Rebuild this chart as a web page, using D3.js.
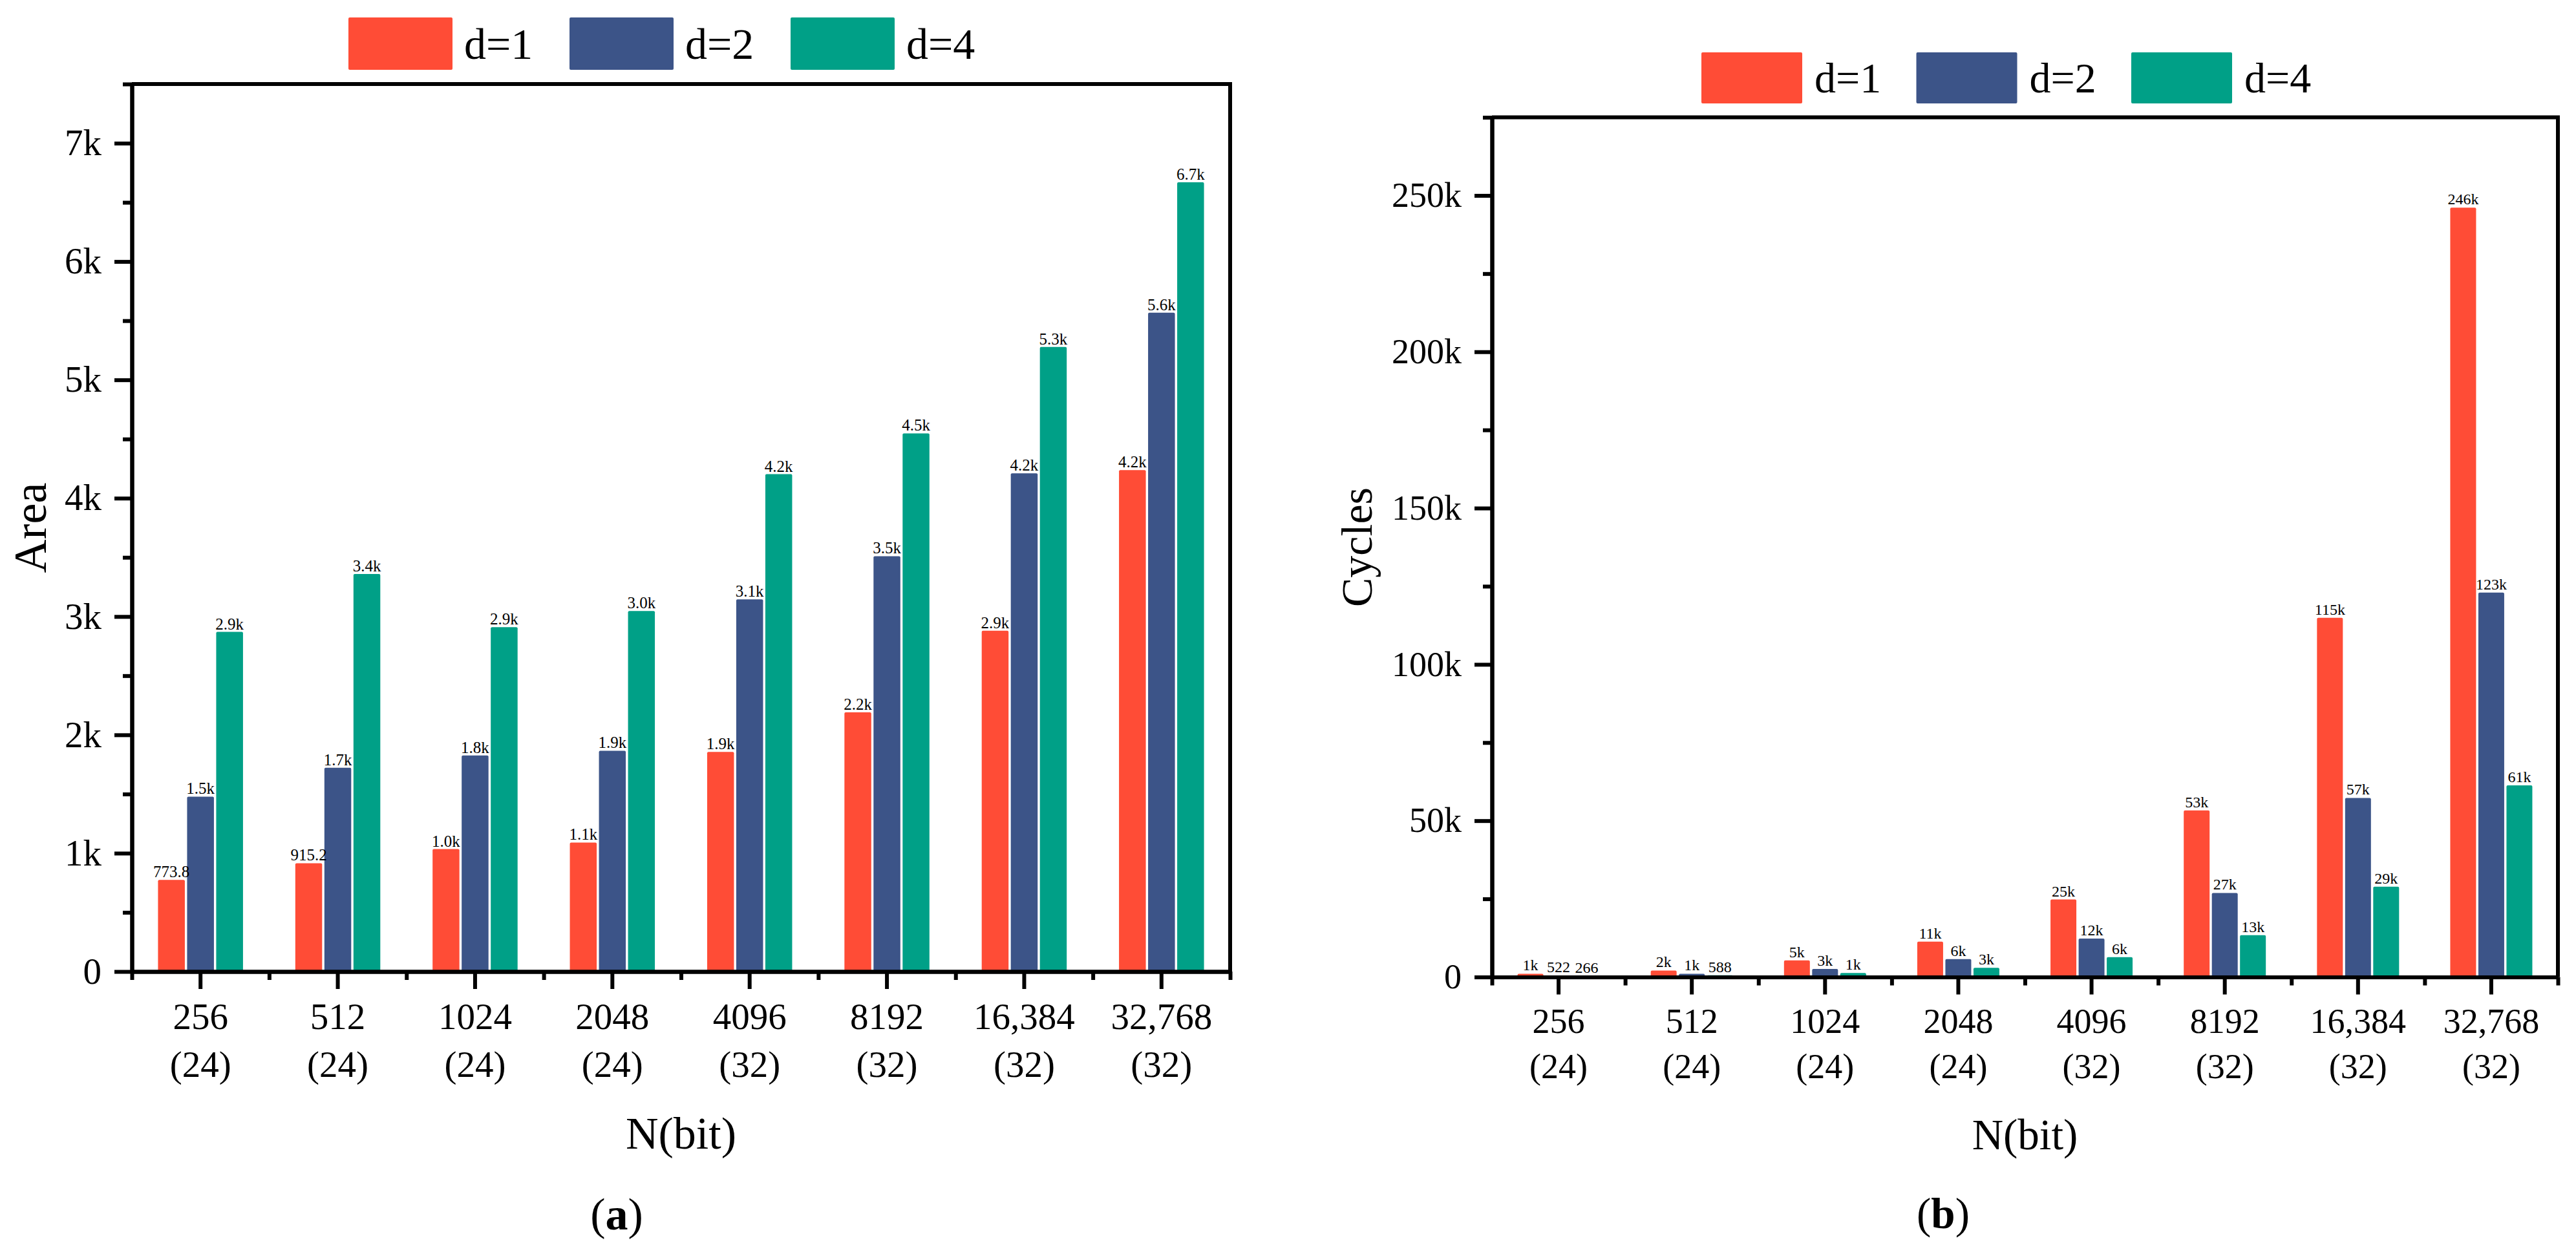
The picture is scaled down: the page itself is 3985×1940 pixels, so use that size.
<!DOCTYPE html>
<html>
<head>
<meta charset="utf-8">
<script src="https://cdn.jsdelivr.net/npm/d3@7"></script>
<style>
  html, body { margin: 0; padding: 0; background: #ffffff; }
  svg { display: block; }
  text { font-family: "Liberation Serif", "Times New Roman", serif; fill: #000; }
</style>
</head>
<body>
<script>
// ---------- DATA ----------
const categories = ["256", "512", "1024", "2048", "4096", "8192", "16,384", "32,768"];
const wordSizes = ["(24)", "(24)", "(24)", "(24)", "(32)", "(32)", "(32)", "(32)"];
const seriesNames = ["d=1", "d=2", "d=4"];
const seriesColors = ["#FF4C36", "#3C5488", "#00A087"];

// Panel (a): Area
const areaD1 = [773.8, 915.2, 1035, 1090, 1856, 2190, 2880, 4237];
const areaD2 = [1478, 1722, 1826, 1866, 3145, 3510, 4210, 5568];
const areaD4 = [2870, 3360, 2910, 3047, 4203, 4548, 5278, 6670];
const areaMajorTicks = [0, 1000, 2000, 3000, 4000, 5000, 6000, 7000];
const areaMinorTicks = [500, 1500, 2500, 3500, 4500, 5500, 6500, 7500];

// Panel (b): Cycles
const cyclesD1 = [1044, 2088, 5350, 11300, 24800, 53300, 114900, 246100];
const cyclesD2 = [522, 1044, 2600, 5750, 12300, 26900, 57300, 123000];
const cyclesD4 = [266, 588, 1300, 2940, 6350, 13400, 28900, 61300];
const cyclesMajorTicks = [0, 50000, 100000, 150000, 200000, 250000];
const cyclesMinorTicks = [25000, 75000, 125000, 175000, 225000, 275000];

// ---------- DRAW ----------
const W = 3985, H = 1940;
const svg = d3.select("body").append("svg").attr("width", W).attr("height", H)
  .attr("viewBox", `0 0 ${W} ${H}`);
svg.append("rect").attr("width", W).attr("height", H).attr("fill", "#fff");

const fmtArea = v => v < 1000 ? v.toFixed(1) : (v / 1000).toFixed(1) + "k";
const fmtCycles = v => v < 1000 ? String(Math.round(v)) : Math.round(v / 1000) + "k";
const fmtTick = v => v === 0 ? "0" : (v / 1000) + "k";

function panel(cfg) {
  const g = svg.append("g");
  const y = d3.scaleLinear().domain([0, cfg.yMax]).range([cfg.yZero, cfg.yTop]);
  const x0 = d3.scaleBand().domain(categories).range([cfg.xLeft, cfg.xRight]).paddingInner(0).paddingOuter(0);
  const groupW = 3 * cfg.barW + 2 * cfg.gap;
  const x1 = d3.scaleBand().domain(seriesNames).range([-groupW / 2, groupW / 2])
    .paddingInner(cfg.gap / (cfg.barW + cfg.gap)).paddingOuter(0);
  const xb = d3.scaleLinear().domain([0, categories.length]).range([cfg.xLeft, cfg.xRight]);

  const rows = categories.map((c, i) => ({ c, vals: cfg.series.map((s, k) => ({ k, name: seriesNames[k], v: s[i] })) }));

  // bars
  const grp = g.selectAll("g.grp").data(rows).join("g")
    .attr("transform", d => `translate(${x0(d.c) + x0.bandwidth() / 2},0)`);
  grp.selectAll("rect").data(d => d.vals).join("rect")
    .attr("x", d => x1(d.name))
    .attr("width", x1.bandwidth())
    .attr("y", d => y(d.v))
    .attr("height", d => y(0) - y(d.v))
    .attr("rx", 2)
    .attr("fill", d => seriesColors[d.k]);
  grp.selectAll("text").data(d => d.vals).join("text")
    .attr("x", d => x1(d.name) + x1.bandwidth() / 2)
    .attr("y", d => y(d.v) - cfg.labelGap)
    .attr("text-anchor", "middle")
    .attr("font-size", cfg.labelFont)
    .text(d => cfg.fmt(d.v));

  // frame: top and right lines
  g.append("line").attr("x1", cfg.xLeft).attr("x2", cfg.xRight + 3)
    .attr("y1", cfg.yTop).attr("y2", cfg.yTop).attr("stroke", "#000").attr("stroke-width", 6);
  g.append("line").attr("x1", cfg.xRight).attr("x2", cfg.xRight)
    .attr("y1", cfg.yTop).attr("y2", cfg.yZero).attr("stroke", "#000").attr("stroke-width", 6);

  // y axis
  const yMinor = g.append("g").attr("transform", `translate(${cfg.xLeft},0)`)
    .call(d3.axisLeft(y).tickValues(cfg.minor).tickSize(14).tickSizeOuter(0).tickFormat(""));
  const yMajor = g.append("g").attr("transform", `translate(${cfg.xLeft},0)`)
    .call(d3.axisLeft(y).tickValues(cfg.major).tickSize(27).tickSizeOuter(0).tickPadding(20).tickFormat(fmtTick));
  [yMinor, yMajor].forEach(a => {
    a.select(".domain").attr("stroke", "#000").attr("stroke-width", 6);
    a.selectAll(".tick line").attr("stroke", "#000").attr("stroke-width", 6);
  });
  yMajor.selectAll(".tick text").attr("font-size", cfg.tickFont)
    .attr("font-family", '"Liberation Serif", "Times New Roman", serif').attr("fill", "#000");

  // x axis
  const xMinor = g.append("g").attr("transform", `translate(0,${cfg.yZero})`)
    .call(d3.axisBottom(xb).tickValues(d3.range(categories.length + 1)).tickSize(13).tickSizeOuter(0).tickFormat(""));
  const xMajor = g.append("g").attr("transform", `translate(0,${cfg.yZero})`)
    .call(d3.axisBottom(x0).tickSize(27).tickSizeOuter(0).tickFormat(""));
  [xMinor, xMajor].forEach(a => {
    a.select(".domain").attr("stroke", "#000").attr("stroke-width", 6);
    a.selectAll(".tick line").attr("stroke", "#000").attr("stroke-width", 6);
  });
  const xl = g.append("g").selectAll("text").data(categories).join("text")
    .attr("text-anchor", "middle").attr("font-size", cfg.tickFont);
  xl.append("tspan").attr("x", d => x0(d) + x0.bandwidth() / 2).attr("y", cfg.yZero + cfg.cat1).text(d => d);
  xl.append("tspan").attr("x", d => x0(d) + x0.bandwidth() / 2).attr("y", cfg.yZero + cfg.cat2)
    .text((d, i) => wordSizes[i]);

  // axis titles
  const cx = (cfg.xLeft + cfg.xRight) / 2;
  const cy = (cfg.yTop + cfg.yZero) / 2;
  g.append("text").attr("x", cx).attr("y", cfg.xTitleY).attr("text-anchor", "middle")
    .attr("font-size", cfg.titleFont).text("N(bit)");
  g.append("text").attr("transform", `translate(${cfg.yTitleX},${cy}) rotate(-90)`)
    .attr("text-anchor", "middle").attr("font-size", cfg.yTitleFont).text(cfg.yTitle);

  // caption
  const cap = g.append("text").attr("x", cfg.capX).attr("y", cfg.capY).attr("text-anchor", "middle")
    .attr("font-size", cfg.titleFont);
  cap.append("tspan").text("(");
  cap.append("tspan").attr("font-weight", "bold").text(cfg.capLetter);
  cap.append("tspan").text(")");

  // legend
  const lg = g.append("g").selectAll("g").data(seriesNames).join("g")
    .attr("transform", (d, i) => `translate(${cfg.legX + i * cfg.legStep},${cfg.legY})`);
  lg.append("rect").attr("width", cfg.legW).attr("height", cfg.legH).attr("rx", 2)
    .attr("fill", (d, i) => seriesColors[i]);
  lg.append("text").attr("x", cfg.legTextDx).attr("y", cfg.legH / 2 + cfg.legFont * 0.34)
    .attr("font-size", cfg.legFont).text(d => d);
}

panel({
  series: [areaD1, areaD2, areaD4], fmt: fmtArea,
  xLeft: 204, xRight: 1903, yTop: 130, yZero: 1503, yMax: 7500,
  major: areaMajorTicks, minor: areaMinorTicks,
  barW: 41.5, gap: 3.5, labelFont: 25, labelGap: 4,
  tickFont: 57, cat1: 89, cat2: 163,
  titleFont: 70, xTitleY: 1777, yTitle: "Area", yTitleX: 71, yTitleFont: 72,
  capX: 954, capY: 1902, capLetter: "a",
  legX: 539, legY: 27, legStep: 342, legW: 161, legH: 81, legTextDx: 179, legFont: 68
});

panel({
  series: [cyclesD1, cyclesD2, cyclesD4], fmt: fmtCycles,
  xLeft: 2308, xRight: 3957, yTop: 181.5, yZero: 1511.5, yMax: 275000,
  major: cyclesMajorTicks, minor: cyclesMinorTicks,
  barW: 40, gap: 3.5, labelFont: 24, labelGap: 5,
  tickFont: 54, cat1: 86.5, cat2: 156.5,
  titleFont: 67, xTitleY: 1778, yTitle: "Cycles", yTitleX: 2122, yTitleFont: 68,
  capX: 3006, capY: 1900, capLetter: "b",
  legX: 2632, legY: 81, legStep: 332.5, legW: 156, legH: 79, legTextDx: 175, legFont: 66
});
</script>
</body>
</html>
